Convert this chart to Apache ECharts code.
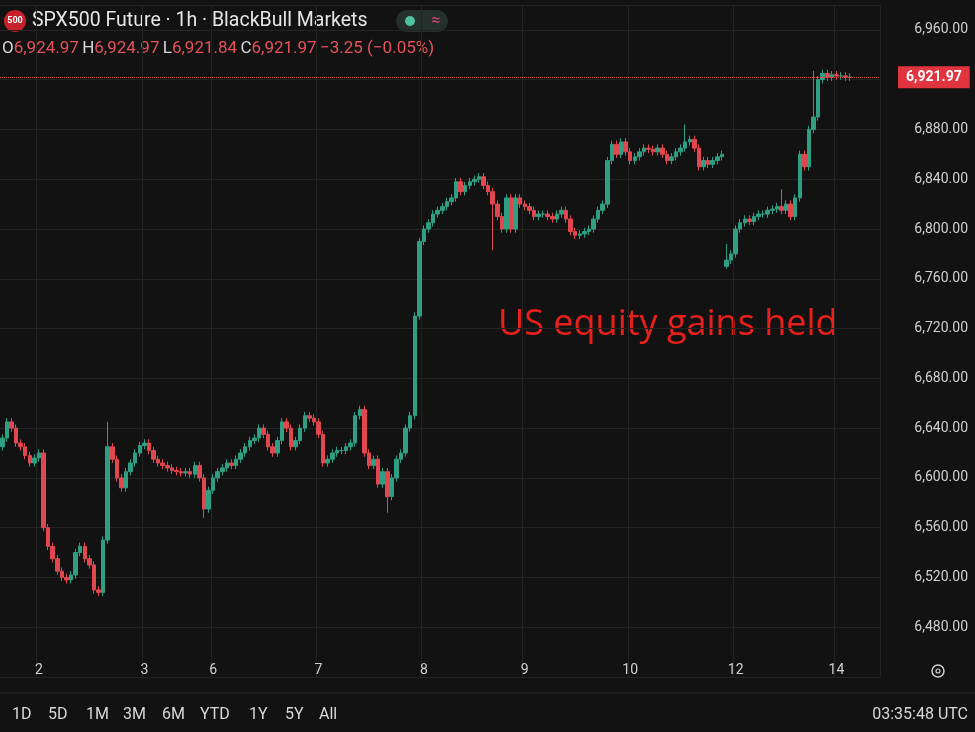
<!DOCTYPE html>
<html>
<head>
<meta charset="utf-8">
<script src="https://cdn.jsdelivr.net/npm/echarts@6/dist/echarts.min.js"></script>
<style>html,body{margin:0;padding:0;background:#121212;}#chart{width:975px;height:732px;}</style>
</head>
<body>
<div id="chart"></div>
<script>
// hourly closes, grouped by stretch
var seg1 = [6632,6645,6640,6628,6625,6618,6612,6616,6620,6560,6545,6535,6525,6520,6518,6522,6540,6545,6535,6530,6510,6508,
  6550,6625,6615,6600,6592,6605,6612,6620,6626,6628,6622,6615,6612,6610,6608,6606,6605,6604,6605,6603,6610,6600];
var seg2 = [6575,6590,6600,6605,6608,6612,6610,6615,6620,6625,6630,6632,6640,6635,6625,6620,6630,6645,6640,6625,6630,6640,
  6650,6648,6645,6635,6612,6615,6620,6622,6622,6625,6628,6650,6655,6620,6610,6615,6595,6605,6585,6600,6615,6620,6640,6650];
var seg3 = [6730,6790,6800,6805,6812,6815,6818,6822,6825,6838,6830,6835,6838,6840,6842,6835,6830,6820,6810,6800,6825,6800,
  6825,6820,6818,6815,6810,6812,6812,6810,6808,6812,6815,6808,6798,6795,6796,6798,6800,6808,6815,6820,6855,6868,6860,6870,
  6862,6855,6858,6862,6865,6864,6862,6865,6860,6855,6858,6862,6865,6870,6872,6865,6850,6855,6852,6855,6858,6860];
var seg4 = [6775,6780,6800,6805,6808,6806,6810,6812,6812,6815,6816,6818,6815,6820,6810,6825,6860,6850,6880,6890,6920,6925,
  6922,6924,6923,6923,6922,6922];
// notable wick extremes: index -> [high, low]
var spikes = {21: [null, 6505], 23: [6645, null], 44: [null, 6568], 84: [null, 6572], 107: [null, 6783],
  149: [6884, null], 158: [6788, 6768], 170: [6832, null], 177: [6927, null]};
var dayLabels = {8: '2', 31: '3', 46: '6', 69: '7', 92: '8', 114: '9', 137: '10', 160: '12', 182: '14'};
var yTicks = [6480, 6520, 6560, 6600, 6640, 6680, 6720, 6760, 6800, 6840, 6880, 6920, 6960];
var lastPrice = 6921.97;
var totalSlots = 192;

var closes = seg1.concat(seg2, seg3, seg4);
var seg4Start = seg1.length + seg2.length + seg3.length;
var cats = [], ohlc = [];
for (var i = 0; i < totalSlots; i++) {
  cats.push(String(i));
  if (i >= closes.length) { ohlc.push('-'); continue; }
  var c = closes[i];
  var o = i === 0 ? 6625 : (i === seg4Start ? 6770 : closes[i - 1]);
  var h = Math.max(o, c) + 3, l = Math.min(o, c) - 3;
  if (spikes[i]) { if (spikes[i][0]) h = spikes[i][0]; if (spikes[i][1]) l = spikes[i][1]; }
  ohlc.push([o, c, l, h]);
}

var chart = echarts.init(document.getElementById('chart'));
var font = 'Roboto, "Noto Sans", sans-serif';
var ranges = ['1D', '5D', '1M', '3M', '6M', 'YTD', '1Y', '5Y', 'All'];
var rangeX = [12, 48, 86, 123, 162, 200, 249, 285, 319];
var graphics = [
  {type: 'circle', shape: {cx: 15, cy: 21, r: 11}, style: {fill: '#c8202a'}},
  {type: 'text', x: 15, y: 21, style: {text: '500', fill: '#fff', font: 'bold 9px ' + font, align: 'center', verticalAlign: 'middle'}},
  {type: 'text', x: 32, y: 21, style: {text: 'SPX500 Future · 1h · BlackBull Markets', fill: '#e6e6e6', font: '19.5px ' + font, verticalAlign: 'middle'}},
  {type: 'rect', shape: {x: 396, y: 10, width: 52, height: 22, r: 11}, style: {fill: '#23302c'}},
  {type: 'circle', shape: {cx: 410, cy: 21, r: 5}, style: {fill: '#4fc3a1'}},
  {type: 'text', x: 436, y: 21, style: {text: '≈', fill: '#e0457a', font: '16px ' + font, align: 'center', verticalAlign: 'middle'}},
  {type: 'text', x: 2, y: 49, style: {
    text: '{k|O}{v|6,924.97} {k|H}{v|6,924.97} {k|L}{v|6,921.84} {k|C}{v|6,921.97} {v|−3.25 (−0.05%)}',
    verticalAlign: 'middle', rich: {k: {fill: '#d8d8d8', font: '17px ' + font}, v: {fill: '#e2535b', font: '17px ' + font}}}},
  {type: 'text', x: 498, y: 325, style: {text: 'US equity gains held', fill: '#e8201c', font: '36px "Open Sans", ' + font, verticalAlign: 'middle'}},
  {type: 'line', shape: {x1: 0, y1: 693, x2: 975, y2: 693}, style: {stroke: '#2a2a2a', lineWidth: 1}},
  {type: 'circle', shape: {cx: 938, cy: 671, r: 6}, style: {fill: 'none', stroke: '#cfcfcf', lineWidth: 1.5}},
  {type: 'circle', shape: {cx: 938, cy: 671, r: 2}, style: {fill: 'none', stroke: '#cfcfcf', lineWidth: 1.2}},
  {type: 'text', x: 968, y: 715, style: {text: '03:35:48 UTC', fill: '#d8d8d8', font: '16px ' + font, align: 'right', verticalAlign: 'middle'}}
];
ranges.forEach(function(r, k) {
  graphics.push({type: 'text', x: rangeX[k], y: 715, style: {text: r, fill: '#d8d8d8', font: '16px ' + font, verticalAlign: 'middle'}});
});

chart.setOption({
  backgroundColor: '#121212',
  animation: false,
  grid: {left: 0, right: 95, top: 5, bottom: 55},
  xAxis: {
    type: 'category', data: cats, boundaryGap: true,
    axisLine: {show: false}, axisTick: {show: false},
    axisLabel: {color: '#d0d0d0', fontSize: 14, fontFamily: font, margin: -14,
      interval: function(i) { return dayLabels[i] !== undefined; },
      formatter: function(v, i) { return dayLabels[i] || ''; }},
    splitLine: {show: true, interval: function(i) { return dayLabels[i] !== undefined; }, lineStyle: {color: '#232323'}}
  },
  yAxis: {
    type: 'value', position: 'right', min: 6440, max: 6980, interval: 40, scale: true,
    axisLine: {show: false}, axisTick: {show: false},
    axisLabel: {color: '#d0d0d0', fontSize: 14, fontFamily: font, margin: 88, align: 'right',
      formatter: function(v) { return yTicks.indexOf(v) < 0 ? '' : v.toLocaleString('en-US', {minimumFractionDigits: 2}); }},
    splitLine: {lineStyle: {color: '#232323'}}
  },
  series: [{
    type: 'candlestick', data: ohlc, barWidth: 4,
    itemStyle: {color: '#2f9e82', color0: '#e0474f', borderColor: '#2f9e82', borderColor0: '#e0474f', borderWidth: 1},
    markLine: {
      symbol: 'none', silent: true,
      data: [{yAxis: lastPrice}],
      lineStyle: {color: '#e0474f', type: 'dotted', width: 1},
      label: {position: 'end', distance: 18, formatter: '6,921.97', color: '#fff', backgroundColor: '#e0353f',
        padding: [4, 8], fontSize: 14, fontWeight: 'bold', fontFamily: font}
    }
  }],
  graphic: graphics
});
</script>
</body>
</html>
